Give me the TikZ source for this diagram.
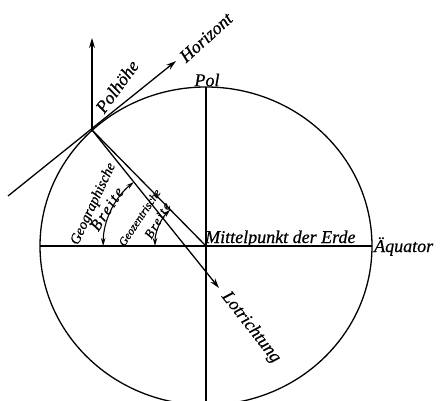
\documentclass[tikz,border=0pt]{standalone}
\usepackage{fontspec}
\setmainfont{Liberation Serif}[FakeBold=0.6]
\usetikzlibrary{arrows.meta,calc}
\begin{document}
\begin{tikzpicture}[x=1pt,y=1pt,
  ln/.style={line width=1.3pt},
  arr/.style={ln,-{Stealth[length=10pt,width=6pt]}},
  darr/.style={line width=1.1pt,{Stealth[length=8pt,width=4.5pt]}-{Stealth[length=8pt,width=4.5pt]}},
  lbl/.style={font=\fontsize{18}{20}\selectfont\itshape,inner sep=0pt},
  slbl/.style={font=\fontsize{14.5}{15}\selectfont\itshape,inner sep=0pt},
  sbr/.style={font=\fontsize{16}{16}\selectfont\itshape\addfontfeature{LetterSpace=12},inner sep=0pt},
  tlbl/.style={font=\fontsize{11.5}{11}\selectfont\itshape,inner sep=0pt},
  tbr/.style={font=\fontsize{13}{13}\selectfont\itshape\addfontfeature{LetterSpace=12},inner sep=0pt}]
\useasboundingbox (0,0) rectangle (440,400);
\coordinate (O) at (206,154);
\coordinate (P) at (92,270);
\coordinate (H) at (176,339);
\coordinate (L) at (8,204);
\coordinate (V) at (92,362);
\coordinate (T) at (219,112);
\coordinate (G) at (185.2,154);
\coordinate (EL) at (40,154);
\coordinate (ER) at (372,154);
\coordinate (NP) at (206,313);
\coordinate (SP) at (206,-5);
% earth
\draw[ln] (O) ellipse [x radius=166, y radius=159];
\draw[ln] (EL) -- (ER);
\draw[ln] (NP) -- (SP);
% tangent / horizon
\draw[arr] (L) -- (H);
% zenith
\draw[arr] (P) -- (V);
% plumb line
\draw[arr] (P) -- (T);
% geocentric line
\draw[ln] (P) -- (O);
% angle arcs
\draw[darr] ($(G)+(-82,0)$) arc[start angle=180,end angle=128.8,radius=82];
\draw[darr] ($(O)+(-51,0)$) arc[start angle=180,end angle=134.5,radius=51];
% labels
\node[lbl,rotate=54] (pl) at (117,313.5) {Polhöhe};
\node[lbl,rotate=42] (hz) at (206,362.5) {Horizont};
\node[lbl] (pol) at (207,320) {Pol};
\node[lbl,anchor=base west] (mp) at (205,157) {Mittelpunkt der Erde};
\node[lbl,anchor=base west] (aq) at (374,148) {Äquator};
\node[lbl,rotate=-52] (lr) at (251,72.5) {Lotrichtung};
\node[slbl,rotate=65] (gb1) at (93.5,196) {Geographische};
\node[sbr,rotate=57] (gb2) at (107,191) {Breite};
\node[tlbl,rotate=56] (zb1) at (139.5,182.5) {Geozentrische};
\node[tbr,rotate=60] (zb2) at (157.5,179.5) {Breite};
\end{tikzpicture}
\end{document}
